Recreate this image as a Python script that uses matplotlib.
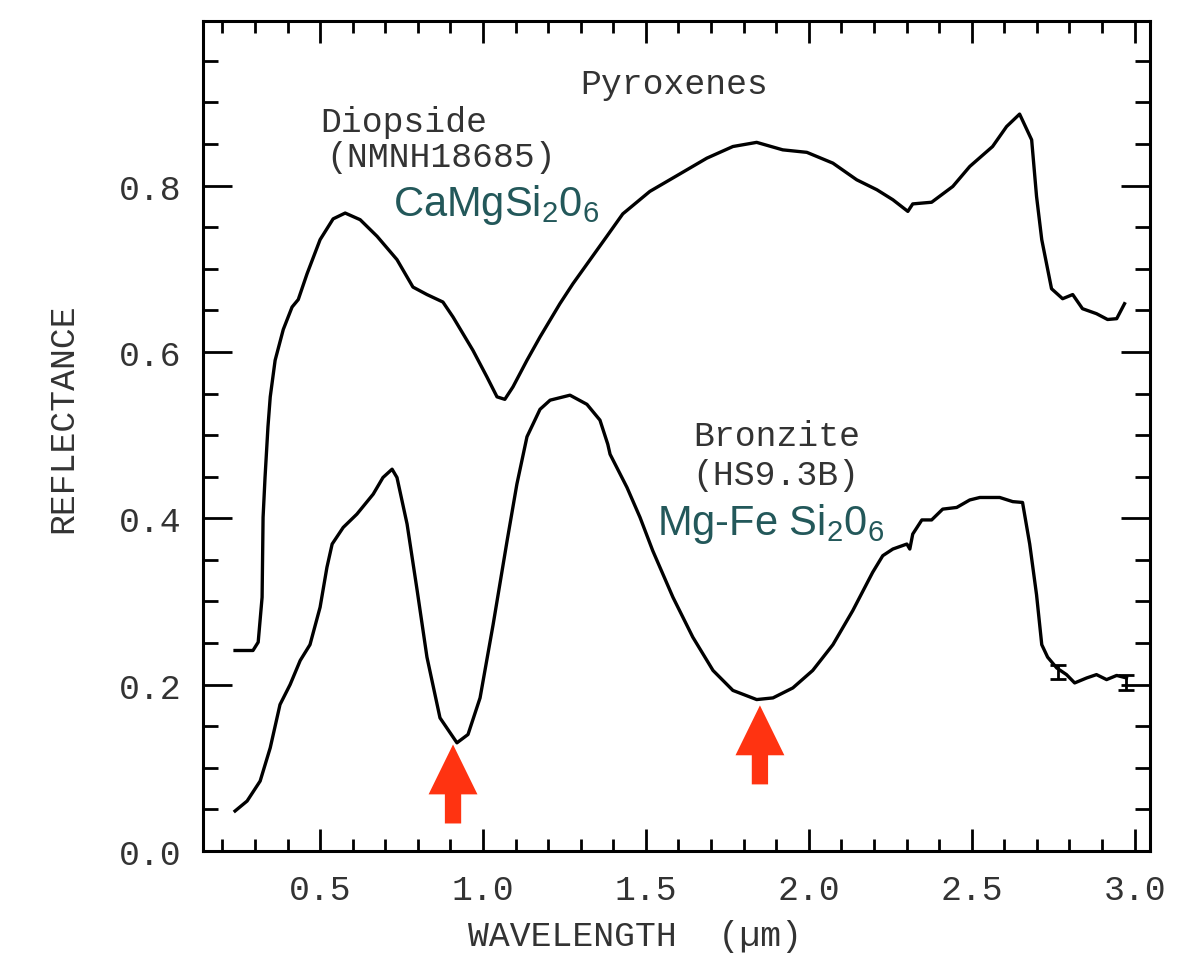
import matplotlib.pyplot as plt
from matplotlib.ticker import MultipleLocator

plt.rcParams['mathtext.fontset'] = 'custom'
plt.rcParams['mathtext.rm'] = 'Liberation Sans'
plt.rcParams['mathtext.it'] = 'Liberation Sans:italic'

# spectra (wavelength in um, reflectance)
diopside_wl = [0.239, 0.294, 0.310, 0.322, 0.325, 0.331, 0.340, 0.347, 0.362, 0.387,
               0.414, 0.433, 0.460, 0.500, 0.540, 0.577, 0.623, 0.675, 0.736, 0.785,
               0.828, 0.877, 0.908, 0.969, 1.012, 1.043, 1.067, 1.092, 1.135, 1.175,
               1.236, 1.276, 1.380, 1.429, 1.512, 1.604, 1.687, 1.767, 1.840, 1.920,
               1.994, 2.074, 2.147, 2.209, 2.258, 2.304, 2.319, 2.377, 2.442, 2.494,
               2.564, 2.607, 2.647, 2.684, 2.699, 2.715, 2.745, 2.779, 2.810, 2.840,
               2.883, 2.917, 2.945, 2.969]
diopside_refl = [0.241, 0.241, 0.251, 0.305, 0.401, 0.449, 0.510, 0.546, 0.590, 0.627,
                 0.654, 0.663, 0.694, 0.735, 0.760, 0.767, 0.759, 0.739, 0.711, 0.678,
                 0.669, 0.660, 0.642, 0.602, 0.570, 0.546, 0.543, 0.558, 0.590, 0.618,
                 0.658, 0.682, 0.739, 0.766, 0.793, 0.814, 0.833, 0.847, 0.852, 0.843,
                 0.840, 0.827, 0.807, 0.795, 0.783, 0.769, 0.778, 0.780, 0.799, 0.823,
                 0.847, 0.871, 0.886, 0.855, 0.787, 0.735, 0.676, 0.664, 0.669, 0.652,
                 0.646, 0.639, 0.640, 0.658]

bronzite_wl = [0.239, 0.276, 0.316, 0.347, 0.377, 0.408, 0.439, 0.469, 0.500, 0.521,
               0.537, 0.571, 0.613, 0.663, 0.693, 0.721, 0.736, 0.767, 0.798, 0.828,
               0.868, 0.920, 0.954, 0.991, 1.031, 1.074, 1.104, 1.135, 1.175, 1.206,
               1.267, 1.319, 1.359, 1.383, 1.390, 1.442, 1.482, 1.521, 1.583, 1.644,
               1.706, 1.767, 1.840, 1.890, 1.951, 2.012, 2.074, 2.135, 2.196, 2.227,
               2.258, 2.301, 2.310, 2.319, 2.347, 2.377, 2.411, 2.454, 2.494, 2.525,
               2.586, 2.626, 2.656, 2.678, 2.699, 2.715, 2.733, 2.761, 2.791, 2.816,
               2.853, 2.883, 2.914, 2.945, 2.975]
bronzite_refl = [0.048, 0.060, 0.084, 0.124, 0.176, 0.200, 0.229, 0.248, 0.293, 0.341,
                 0.369, 0.389, 0.405, 0.429, 0.449, 0.459, 0.449, 0.393, 0.313, 0.233,
                 0.160, 0.130, 0.140, 0.184, 0.272, 0.373, 0.441, 0.498, 0.531, 0.542,
                 0.548, 0.537, 0.518, 0.489, 0.477, 0.437, 0.401, 0.361, 0.305, 0.257,
                 0.217, 0.193, 0.182, 0.184, 0.196, 0.217, 0.248, 0.289, 0.335, 0.355,
                 0.363, 0.369, 0.363, 0.381, 0.398, 0.398, 0.411, 0.413, 0.422, 0.425,
                 0.425, 0.420, 0.419, 0.369, 0.308, 0.248, 0.233, 0.220, 0.212, 0.202,
                 0.208, 0.212, 0.206, 0.211, 0.208]

# error bars on the bronzite tail
err_wl = [2.765, 2.975]
err_refl = [0.215, 0.202]
err_size = [0.008, 0.009]

# band centres marked with red arrows
arrow_wl = [0.908, 1.850]
arrow_tip = [0.128, 0.175]
arrow_base = [0.033, 0.080]

mono = 'Liberation Mono'
grey = '#333333'
teal = '#23585a'

fig = plt.figure(figsize=(12, 9.54), dpi=100)
ax = fig.add_axes([0.169, 0.107, 0.789, 0.870])

ax.plot(diopside_wl, diopside_refl, color='black', lw=2.4)
ax.plot(bronzite_wl, bronzite_refl, color='black', lw=2.4)
ax.errorbar(err_wl, err_refl, yerr=err_size, fmt='none', ecolor='black',
            elinewidth=2, capsize=6, capthick=2)

for x, tip, base in zip(arrow_wl, arrow_tip, arrow_base):
    ax.arrow(x, base, 0, tip - base, width=0.05, head_width=0.15,
             head_length=0.06, length_includes_head=True,
             color='#ff3311', lw=0)

ax.text(1.586, 0.923, 'Pyroxenes', family=mono, fontsize=25, color=grey,
        ha='center', va='center')
ax.text(0.50, 0.877, 'Diopside', family=mono, fontsize=25, color=grey,
        ha='left', va='center')
ax.text(0.52, 0.835, '(NMNH18685)', family=mono, fontsize=25, color=grey,
        ha='left', va='center')
ax.text(0.724, 0.765, r'CaMgSi$_2$0$_6$', family='Liberation Sans', fontsize=30,
        color=teal, ha='left', va='baseline')
ax.text(1.644, 0.50, 'Bronzite', family=mono, fontsize=25, color=grey,
        ha='left', va='center')
ax.text(1.641, 0.453, '(HS9.3B)', family=mono, fontsize=25, color=grey,
        ha='left', va='center')
ax.text(1.534, 0.381, r'Mg-Fe Si$_2$0$_6$', family='Liberation Sans', fontsize=30,
        color=teal, ha='left', va='baseline')

ax.set_xlim(0.14, 3.046)
ax.set_ylim(0, 0.998)
ax.xaxis.set_major_locator(MultipleLocator(0.5))
ax.xaxis.set_minor_locator(MultipleLocator(0.1))
ax.yaxis.set_major_locator(MultipleLocator(0.2))
ax.yaxis.set_minor_locator(MultipleLocator(0.05))
ax.xaxis.set_major_formatter(lambda v, p: f'{v:.1f}')
ax.yaxis.set_major_formatter(lambda v, p: f'{v:.1f}')

ax.tick_params(axis='both', which='both', direction='in', top=True, right=True,
               width=2, colors='black', labelcolor=grey, labelsize=25)
ax.tick_params(axis='x', which='major', length=16, pad=16)
ax.tick_params(axis='x', which='minor', length=8.5)
ax.tick_params(axis='y', which='major', length=21, pad=15)
ax.tick_params(axis='y', which='minor', length=11)
for lab in ax.get_xticklabels() + ax.get_yticklabels():
    lab.set_family(mono)
for s in ax.spines.values():
    s.set_linewidth(2.2)

ax.set_xlabel('WAVELENGTH  (µm)', family=mono, fontsize=25, color=grey)
ax.xaxis.set_label_coords(0.456, -0.082)
ax.set_ylabel('REFLECTANCE', family=mono, fontsize=25, color=grey)
ax.yaxis.set_label_coords(-0.130, 0.523)

fig.savefig('out.png', dpi=100)
